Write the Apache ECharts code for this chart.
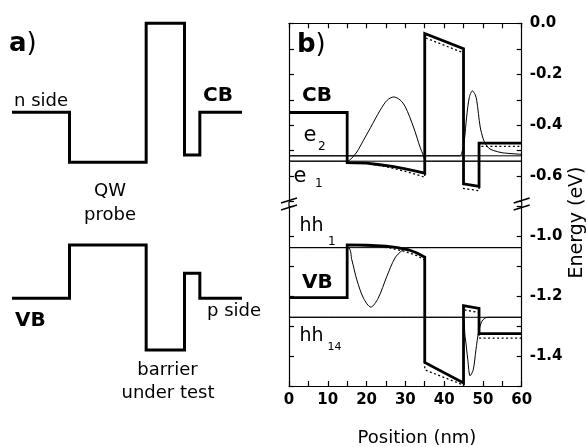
<!DOCTYPE html>
<html><head><meta charset="utf-8">
<script src="https://cdn.jsdelivr.net/npm/echarts@6/dist/echarts.min.js"></script>
<style>html,body{margin:0;padding:0;background:#fff}#c{width:586px;height:447px}</style>
</head><body><div id="c"></div>
<script>
// ---------- Panel a: schematic band profile (position nm, schematic energy units) ----------
const schemCB = [[0,0],[15,0],[15,-0.5],[35,-0.5],[35,0.89],[45,0.89],[45,-0.427],[49,-0.427],[49,0],[60,0]];
const schemVB = [[0,-1.86],[15,-1.86],[15,-1.327],[35,-1.327],[35,-2.377],[45,-2.377],[45,-1.61],[49,-1.61],[49,-1.86],[60,-1.86]];

// ---------- Panel b: conduction band (eV) ----------
const cbSolid = [[0,-0.35],[15,-0.35],[15,-0.547],[20,-0.549],[23.5,-0.555],[27,-0.562],[30,-0.571],[33,-0.581],[35,-0.588],
  [35,-0.04],[45,-0.10],[45,-0.63],[49,-0.64],[49,-0.47],[60,-0.47]];
const cbDotted = [[0,-0.35],[15,-0.35],[15,-0.547],[20,-0.550],[25,-0.562],[30,-0.581],[33,-0.594],[35,-0.604],
  [35,-0.056],[45,-0.116],[45,-0.648],[49,-0.657],[49,-0.483],[60,-0.483]];
const e1Level = -0.541;
const e2Level = -0.52;
const psiE1 = [[0,-0.541],[15,-0.541],[16,-0.532],[17.5,-0.505],[19.2,-0.459],[21,-0.41],[23.5,-0.341],[25.3,-0.302],[27,-0.289],
  [28.6,-0.300],[30,-0.328],[32.1,-0.407],[33.8,-0.486],[34.7,-0.52],[35.3,-0.541],[60,-0.541]];
const psiE2 = [[0,-0.52],[44,-0.52],[44.5,-0.512],[45.2,-0.46],[45.8,-0.368],[46.5,-0.29],[47.3,-0.265],[48,-0.28],[48.4,-0.302],
  [49.3,-0.407],[50,-0.45],[50.6,-0.472],[51.5,-0.49],[52.7,-0.499],[55,-0.508],[60,-0.514]];

// ---------- Panel b: valence band (eV) ----------
const vbSolid = [[0,-1.204],[15,-1.204],[15,-1.028],[20,-1.029],[25,-1.032],[28,-1.037],[31,-1.045],[33,-1.055],[35,-1.069],
  [35,-1.421],[45,-1.49],[45,-1.231],[49,-1.24],[49,-1.325],[60,-1.325]];
const vbDotted = [[0,-1.204],[15,-1.204],[15,-1.028],[22,-1.031],[26,-1.038],[30,-1.05],[33,-1.064],[35,-1.079],
  [35,-1.446],[45,-1.497],[45,-1.245],[49,-1.254],[49,-1.34],[60,-1.34]];
const hh1Level = -1.037;
const hh14Level = -1.27;
const psiHH1 = [[0,-1.037],[15.2,-1.037],[16.2,-1.078],[17.5,-1.145],[19.2,-1.206],[21.1,-1.236],[23,-1.206],[25.2,-1.134],
  [27.3,-1.072],[29.1,-1.047],[30.3,-1.039],[31.5,-1.037],[60,-1.037]];
const psiHH14 = [[0,-1.27],[44.5,-1.27],[45.4,-1.334],[46.1,-1.412],[46.7,-1.466],[47.5,-1.446],[48.2,-1.379],[48.9,-1.318],
  [49.7,-1.284],[50.5,-1.273],[51.3,-1.27],[60,-1.27]];

// ---------- tick labels ----------
const xTickLabels = [0,10,20,30,40,50,60];
const upperYLabels = ['0.0','-0.2','-0.4','-0.6'];
const lowerYLabels = ['-1.0','-1.2','-1.4'];

const FONT = 'DejaVu Sans';
const BLACK = '#000';

const G1 = {left:289, top:23.3, width:232.7, height:178.4};
const G2 = {left:289, top:206.7, width:232.7, height:179.3};

function fmtY(list){
  return function(v){
    if (Math.abs(v) < 1e-9) v = 0;
    const s = v.toFixed(1);
    return list.indexOf(s) >= 0 ? s : '';
  };
}
const tickLabelStyle = {color:BLACK, fontFamily:FONT, fontWeight:'bold', fontSize:15};

function frameY(gridIndex, pos, min, max, labels){
  return {
    type:'value', gridIndex, position:pos, min, max, interval:0.1,
    axisLine:{show:true, onZero:false, lineStyle:{color:BLACK, width:1.2}},
    axisTick:{show:true, inside:true, length:5, lineStyle:{color:BLACK, width:1.2}},
    axisLabel: labels ? Object.assign({show:true, margin:8, formatter:fmtY(labels)}, tickLabelStyle) : {show:false},
    splitLine:{show:false}
  };
}

function line(data, xi, yi, width, type, z, smooth){
  return {
    type:'line', data, xAxisIndex:xi, yAxisIndex:yi, showSymbol:false, symbol:'none',
    smooth: smooth || false, silent:true, z,
    lineStyle:{color:BLACK, width, type: type || 'solid', cap:'butt', join:'miter'},
    animation:false
  };
}
function level(v, xi, yi){ return line([[0,v],[60,v]], xi, yi, 1, 'solid', 1); }

function txt(text, x, y, size, bold, align){
  return {type:'text', x, y, silent:true, z:100,
    style:{text, fill:BLACK, fontFamily:FONT, fontSize:size, fontWeight: bold ? 'bold' : 'normal',
      align: align || 'left', verticalAlign:'middle'}};
}
function breakMarks(x0){
  return [
    {type:'line', silent:true, z:50, shape:{x1:x0, y1:201.7, x2:x0, y2:206.7}, style:{stroke:BLACK, lineWidth:1.2}},
    {type:'line', silent:true, z:50, shape:{x1:x0-8, y1:203, x2:x0+8, y2:198}, style:{stroke:BLACK, lineWidth:1.4}},
    {type:'line', silent:true, z:50, shape:{x1:x0-8, y1:210, x2:x0+8, y2:205}, style:{stroke:BLACK, lineWidth:1.4}}
  ];
}

const chart = echarts.init(document.getElementById('c'), null, {renderer:'canvas'});
chart.setOption({
  animation:false,
  backgroundColor:'#fff',
  textStyle:{fontFamily:FONT, color:BLACK},
  grid:[
    {left:12, top:12.3, width:230, height:350, outerBoundsMode:'none'},
    Object.assign({outerBoundsMode:'none'}, G1),
    Object.assign({outerBoundsMode:'none'}, G2)
  ],
  xAxis:[
    {type:'value', gridIndex:0, min:0, max:60, show:false},
    {type:'value', gridIndex:1, position:'top', min:0, max:60, interval:5,
      axisLine:{show:true, onZero:false, lineStyle:{color:BLACK, width:1.2}},
      axisTick:{show:true, inside:true, length:5, lineStyle:{color:BLACK, width:1.2}},
      axisLabel:{show:false}, splitLine:{show:false}},
    {type:'value', gridIndex:2, position:'bottom', min:0, max:60, interval:5,
      axisLine:{show:true, onZero:false, lineStyle:{color:BLACK, width:1.2}},
      axisTick:{show:true, inside:true, length:5, lineStyle:{color:BLACK, width:1.2}},
      axisLabel:Object.assign({show:true, margin:7, formatter:v => (xTickLabels.indexOf(Math.round(v)) >= 0 && Math.abs(v-Math.round(v))<1e-9) ? String(Math.round(v)) : ''}, tickLabelStyle),
      splitLine:{show:false}}
  ],
  yAxis:[
    {type:'value', gridIndex:0, min:-2.5, max:1.0, show:false},
    frameY(1,'left',-0.7,0,null),
    frameY(1,'right',-0.7,0,upperYLabels),
    frameY(2,'left',-1.5,-0.9,null),
    frameY(2,'right',-1.5,-0.9,lowerYLabels)
  ],
  series:[
    line(schemCB,0,0,3,'solid',5),
    line(schemVB,0,0,3,'solid',5),
    level(e1Level,1,1),
    level(e2Level,1,1),
    line(psiE1,1,1,1,'solid',2,0.3),
    line(psiE2,1,1,1,'solid',2,0.3),
    line(cbDotted,1,1,1.3,[2,2.5],3),
    line(cbSolid,1,1,2.8,'solid',4),
    level(hh1Level,2,3),
    level(hh14Level,2,3),
    line(psiHH1,2,3,1,'solid',2,0.3),
    line(psiHH14,2,3,1,'solid',2,0.3),
    line(vbDotted,2,3,1.3,[2,2.5],3),
    line(vbSolid,2,3,2.8,'solid',4)
  ],
  graphic:[
    {type:'text', x:9, y:44.3, silent:true, z:100, style:{text:'{b|a}{n|)}', verticalAlign:'middle', fill:BLACK,
      rich:{b:{fontFamily:FONT, fontSize:26, fontWeight:'bold', fill:BLACK}, n:{fontFamily:FONT, fontSize:26, fontWeight:'normal', fill:BLACK}}}},
    txt('n side', 14, 101.7, 18, false),
    txt('CB', 203, 95.8, 20, true),
    txt('QW', 110, 191.7, 18, false, 'center'),
    txt('probe', 110, 215, 18, false, 'center'),
    txt('VB', 15, 320.8, 20, true),
    txt('p side', 207, 311.4, 18, false),
    txt('barrier', 167.5, 370.7, 18, false, 'center'),
    txt('under test', 168, 393.4, 18, false, 'center'),
    {type:'text', x:297, y:45.3, silent:true, z:100, style:{text:'{b|b}{n|)}', verticalAlign:'middle', fill:BLACK,
      rich:{b:{fontFamily:FONT, fontSize:26, fontWeight:'bold', fill:BLACK}, n:{fontFamily:FONT, fontSize:26, fontWeight:'normal', fill:BLACK}}}},
    txt('CB', 302, 95.8, 20, true),
    txt('e', 303.5, 135.8, 21, false),
    txt('2', 318, 146.4, 12, false),
    txt('e', 293.5, 176.8, 21, false),
    txt('1', 315, 183.4, 12, false),
    txt('hh', 299.5, 226, 19, false),
    txt('1', 328, 241.4, 12, false),
    txt('VB', 302, 282.4, 20, true),
    txt('hh', 299.5, 336, 19, false),
    txt('14', 327.5, 347.1, 11, false),
    txt('Position (nm)', 417, 438, 18, false, 'center'),
    {type:'text', x:577, y:222.5, rotation:Math.PI/2, silent:true, z:100,
      style:{text:'Energy (eV)', fill:BLACK, fontFamily:FONT, fontSize:19, align:'center', verticalAlign:'middle'}}
  ].concat(breakMarks(289), breakMarks(521.7))
});
</script>
</body></html>
